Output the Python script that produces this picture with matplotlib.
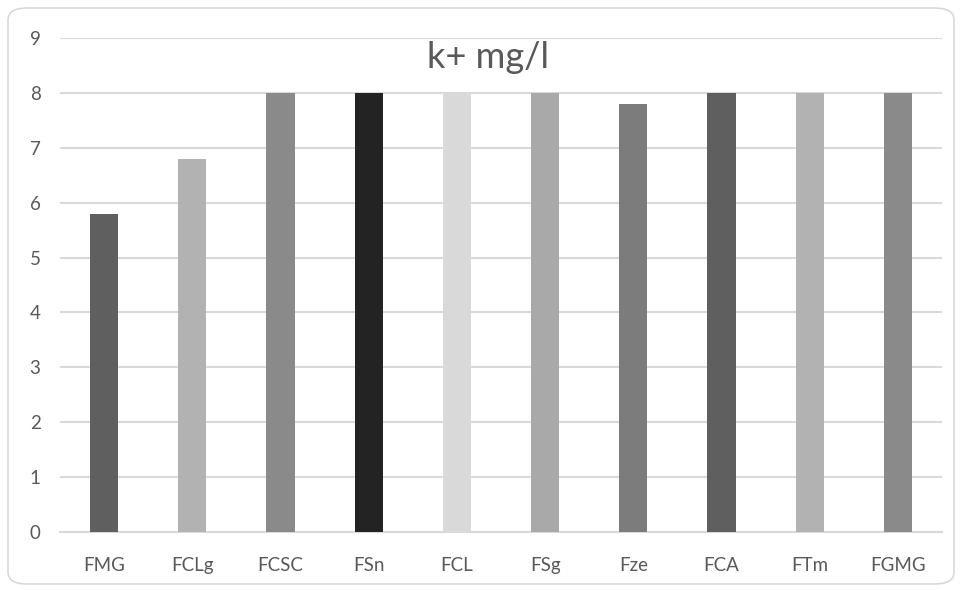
import matplotlib
matplotlib.use("Agg")
import matplotlib.pyplot as plt
from matplotlib.patches import FancyBboxPatch

categories = ["FMG", "FCLg", "FCSC", "FSn", "FCL", "FSg", "Fze", "FCA", "FTm", "FGMG"]
values = [5.8, 6.8, 8, 8, 8, 8, 7.8, 8, 8, 8]
bar_colors = ["#5f5f5f", "#b2b2b2", "#8a8a8a", "#232323", "#d9d9d9",
              "#a9a9a9", "#7c7c7c", "#5f5f5f", "#b2b2b2", "#8a8a8a"]
yticks = list(range(0, 10))

plt.rcParams['font.family'] = ['Lato', 'DejaVu Sans']
text_color = "#595959"

fig = plt.figure(figsize=(9.63, 5.90), dpi=100)
ax = fig.add_axes([60/963, 58/590, 882/963, 494/590])

x = range(len(categories))
ax.bar(x, values, width=0.32, color=bar_colors, zorder=3)

ax.set_xlim(-0.5, len(categories) - 0.5)
ax.set_ylim(0, 9)
ax.set_yticks(yticks)
ax.set_xticks(list(x))
ax.set_xticklabels(categories)

ax.yaxis.grid(True, color="#d9d9d9", linewidth=1.5, zorder=0)
for s in ["top", "right", "left"]:
    ax.spines[s].set_visible(False)
ax.spines["bottom"].set_color("#d9d9d9")
ax.spines["bottom"].set_linewidth(1.5)
ax.tick_params(axis="both", length=0, colors=text_color, labelsize=13.5)
ax.tick_params(axis="x", pad=18)
ax.tick_params(axis="y", pad=14)

ax.text(0.485, 0.96, "k+ mg/l", transform=ax.transAxes, ha="center", va="center",
        fontsize=26, color=text_color)

border = FancyBboxPatch((8/963, 6/590), 946/963, 576/590,
                        boxstyle="round,pad=0,rounding_size=0.02",
                        transform=fig.transFigure, facecolor="none",
                        edgecolor="#d9d9d9", linewidth=1.2)
fig.patches.append(border)

fig.savefig("out.png", dpi=100)
